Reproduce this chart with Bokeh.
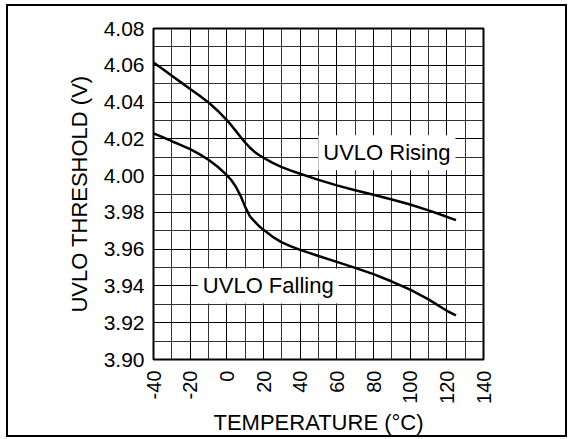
import numpy as np
from bokeh.plotting import figure
from bokeh.models import Range1d, FixedTicker, NumeralTickFormatter, Label
from bokeh.embed import file_html
from bokeh.resources import INLINE

temp = [-40, -35, -30, -25, -20, -15, -10, -5, 0, 2.5, 5, 7.5, 10, 12.5, 15, 17.5, 20, 25, 30, 35, 40,
        50, 60, 70, 80, 90, 100, 110, 120, 125]
uvlo_rising = [4.0615, 4.058, 4.0543, 4.0507, 4.0471, 4.0436, 4.0398, 4.0353, 4.0302, 4.0273, 4.0242,
               4.0210, 4.0180, 4.0153, 4.0130, 4.0112, 4.0097, 4.0069, 4.0046, 4.0027, 4.0010,
               3.9977, 3.9947, 3.9920, 3.9896, 3.9870, 3.9843, 3.9811, 3.9776, 3.9758]
uvlo_falling = [4.0230, 4.0209, 4.0187, 4.0166, 4.0144, 4.0117, 4.0086, 4.0048, 4.0003, 3.9975, 3.9938,
                3.9890, 3.9830, 3.9780, 3.9752, 3.9726, 3.9705, 3.9667, 3.9637, 3.9615, 3.9596,
                3.9563, 3.9531, 3.9498, 3.9464, 3.9424, 3.9380, 3.9327, 3.9265, 3.9240]
x_ticks = [-40, -20, 0, 20, 40, 60, 80, 100, 120, 140]
x_minor = [-30, -10, 10, 30, 50, 70, 90, 110, 130]
y_ticks = [3.90, 3.92, 3.94, 3.96, 3.98, 4.00, 4.02, 4.04, 4.06, 4.08]
y_minor = [3.91, 3.93, 3.95, 3.97, 3.99, 4.01, 4.03, 4.05, 4.07]

FONT = "Liberation Sans"

p = figure(width=573, height=439, output_backend="svg", toolbar_location=None,
           x_range=Range1d(-40, 140), y_range=Range1d(3.90, 4.08),
           min_border_left=153, min_border_right=90, min_border_top=28, min_border_bottom=80)
p.background_fill_color = "white"
p.border_fill_color = None
p.outline_line_color = "black"
p.outline_line_width = 2
grad = "linear-gradient(black, black)"
p.styles = {
    "background-color": "white",
    "background-image": ", ".join([grad] * 4),
    "background-size": "2px 433px, 561px 2px, 2px 433px, 561px 2px",
    "background-position": "6px 4px, 6px 4px, 565px 4px, 6px 435px",
    "background-repeat": "no-repeat",
}

p.xaxis.ticker = FixedTicker(ticks=x_ticks, minor_ticks=x_minor)
p.yaxis.ticker = FixedTicker(ticks=y_ticks, minor_ticks=y_minor)
p.yaxis.formatter = NumeralTickFormatter(format="0.00")
p.xaxis.major_label_overrides = {t: str(t) for t in x_ticks}

for g in (p.xgrid, p.ygrid):
    g.grid_line_color = "black"
    g.grid_line_width = 1
    g.grid_line_alpha = 1
    g.minor_grid_line_color = "#333333"
    g.minor_grid_line_width = 1

for ax in (p.xaxis, p.yaxis):
    ax.major_tick_line_color = None
    ax.minor_tick_line_color = None
    ax.axis_line_color = None
    ax.major_label_text_font = FONT
    ax.major_label_text_font_size = "20px"
    ax.major_label_text_color = "black"
    ax.axis_label_text_font = FONT
    ax.axis_label_text_font_size = "22px"
    ax.axis_label_text_font_style = "normal"
    ax.axis_label_text_color = "black"

p.yaxis.major_label_text_font_size = "21px"
p.xaxis.major_label_orientation = np.pi / 2
p.xaxis.major_label_standoff = 5
p.yaxis.major_label_standoff = 3
p.xaxis.axis_label = "TEMPERATURE (°C)"
p.yaxis.axis_label = "UVLO THRESHOLD (V)"
p.xaxis.axis_label_standoff = 3
p.yaxis.axis_label_standoff = 9

p.line(temp, uvlo_rising, line_color="black", line_width=2.5)
p.line(temp, uvlo_falling, line_color="black", line_width=2.5)

for txt, x, y in (("UVLO Rising", 87.3, 4.0125), ("UVLO Falling", 22.6, 3.9400)):
    p.add_layout(Label(x=x, y=y, text=txt, text_align="center", text_baseline="middle",
                       text_font=FONT, text_font_size="22px", text_color="black",
                       background_fill_color="white", padding=5))

open("out.html", "w").write(file_html(p, INLINE))
